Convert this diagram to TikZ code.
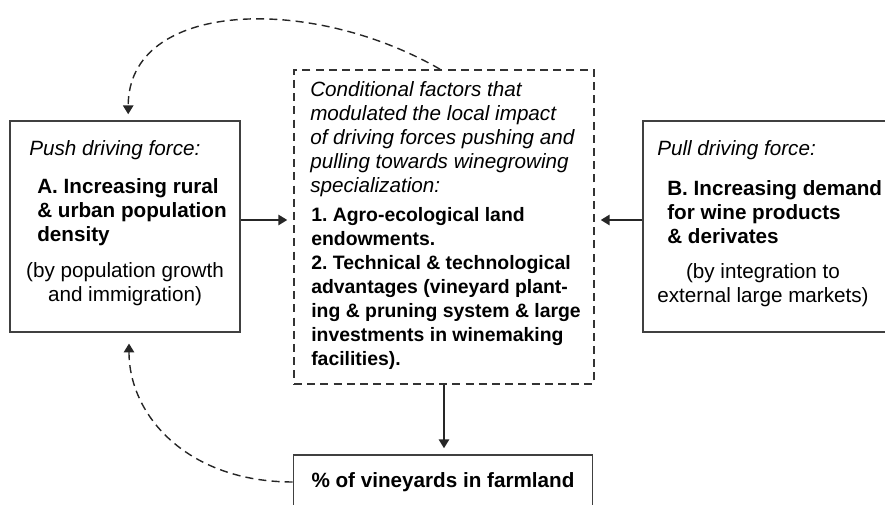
\documentclass[tikz,border=0pt]{standalone}
\usepackage{fontspec}
\setmainfont{Liberation Sans}
\usetikzlibrary{arrows.meta,positioning,calc}
\newcommand\dfont{\fontsize{14.7}{17.1}\selectfont\frenchspacing}
\newcommand\lfont{\fontsize{13.8}{17.1}\selectfont\frenchspacing}

\begin{document}
\begin{tikzpicture}[
    box/.style={draw=black!75, line width=1.1pt, inner sep=0pt},
    condbox/.style={draw=black!80, line width=1.1pt, dash pattern=on 0.2cm off 0.13cm, inner sep=0pt},
    head/.style={font=\dfont\itshape, align=left, anchor=west, inner sep=0pt},
    force/.style={font=\dfont\bfseries, align=left, anchor=west, inner sep=0pt},
    note/.style={font=\dfont, align=center, inner sep=0pt},
    flow/.style={draw=black!85, line width=1pt, -{Triangle[width=0.26cm,length=0.22cm]}, shorten >=0.15cm},
    feedback/.style={draw=black!85, line width=1pt, dash pattern=on 0.2cm off 0.13cm, -{Triangle[width=0.26cm,length=0.22cm]}}
]
    \useasboundingbox (0,0) rectangle (22.125,12.625);

    % Push driving force
    \node[box, minimum width=5.75cm, minimum height=5.275cm] (push) at (3.125,6.9625) {};
    \node[head] (pushhead) at (0.725,8.875) {Push driving force:};
    \node[force] (pushforce) at (0.925,7.325) {A. Increasing rural\\ \& urban population\\ density};
    \node[note] (pushnote) at (3.125,5.5125) {(by population growth\\ and immigration)};

    % Conditional factors
    \node[condbox, minimum width=7.5cm, minimum height=7.85cm] (cond) at (11.1,6.95) {};
    \node[head] (condhead) at (7.75,9.14) {Conditional factors that\\ modulated the local impact\\ of driving forces pushing and\\ pulling towards winegrowing\\ specialization:};
    \node[force, font=\lfont\bfseries] (condlist) at (7.775,5.4125) {1. Agro-ecological land\\ endowments.\\ 2. Technical \& technological\\ advantages (vineyard plant-\\ ing \& pruning system \& large\\ investments in winemaking\\ facilities).};

    % Pull driving force
    \node[box, minimum width=6.125cm, minimum height=5.275cm] (pull) at (19.1375,6.9625) {};
    \node[head] (pullhead) at (16.425,8.875) {Pull driving force:};
    \node[force] (pullforce) at (16.675,7.325) {B. Increasing demand\\ for wine products\\ \& derivates};
    \node[note] (pullnote) at (19.075,5.5) {(by integration to\\ external large markets)};

    % Outcome
    \node[box, font=\dfont\bfseries, minimum width=7.475cm, minimum height=1.35cm] (share) at (11.075,0.575) {\% of vineyards in farmland};

    % Connections
    \coordinate (lvl) at (0,7.125);
    \draw[flow] (push.east |- lvl) -- (cond.west |- lvl);
    \draw[flow] (pull.west |- lvl) -- (cond.east |- lvl);
    \draw[flow] (cond.south) -- (cond.south |- share.north);

    % Feedback loops
    \draw[feedback, shorten >=0.15cm] ([xshift=-0.1cm]cond.north) .. controls +(150:3.75) and +(90:3) .. ([xshift=0.08cm]push.north);
    \draw[feedback, shorten >=0.27cm] (share.west) .. controls +(180:2.6) and +(-90:2.1) .. ([xshift=0.1cm]push.south);
\end{tikzpicture}
\end{document}
